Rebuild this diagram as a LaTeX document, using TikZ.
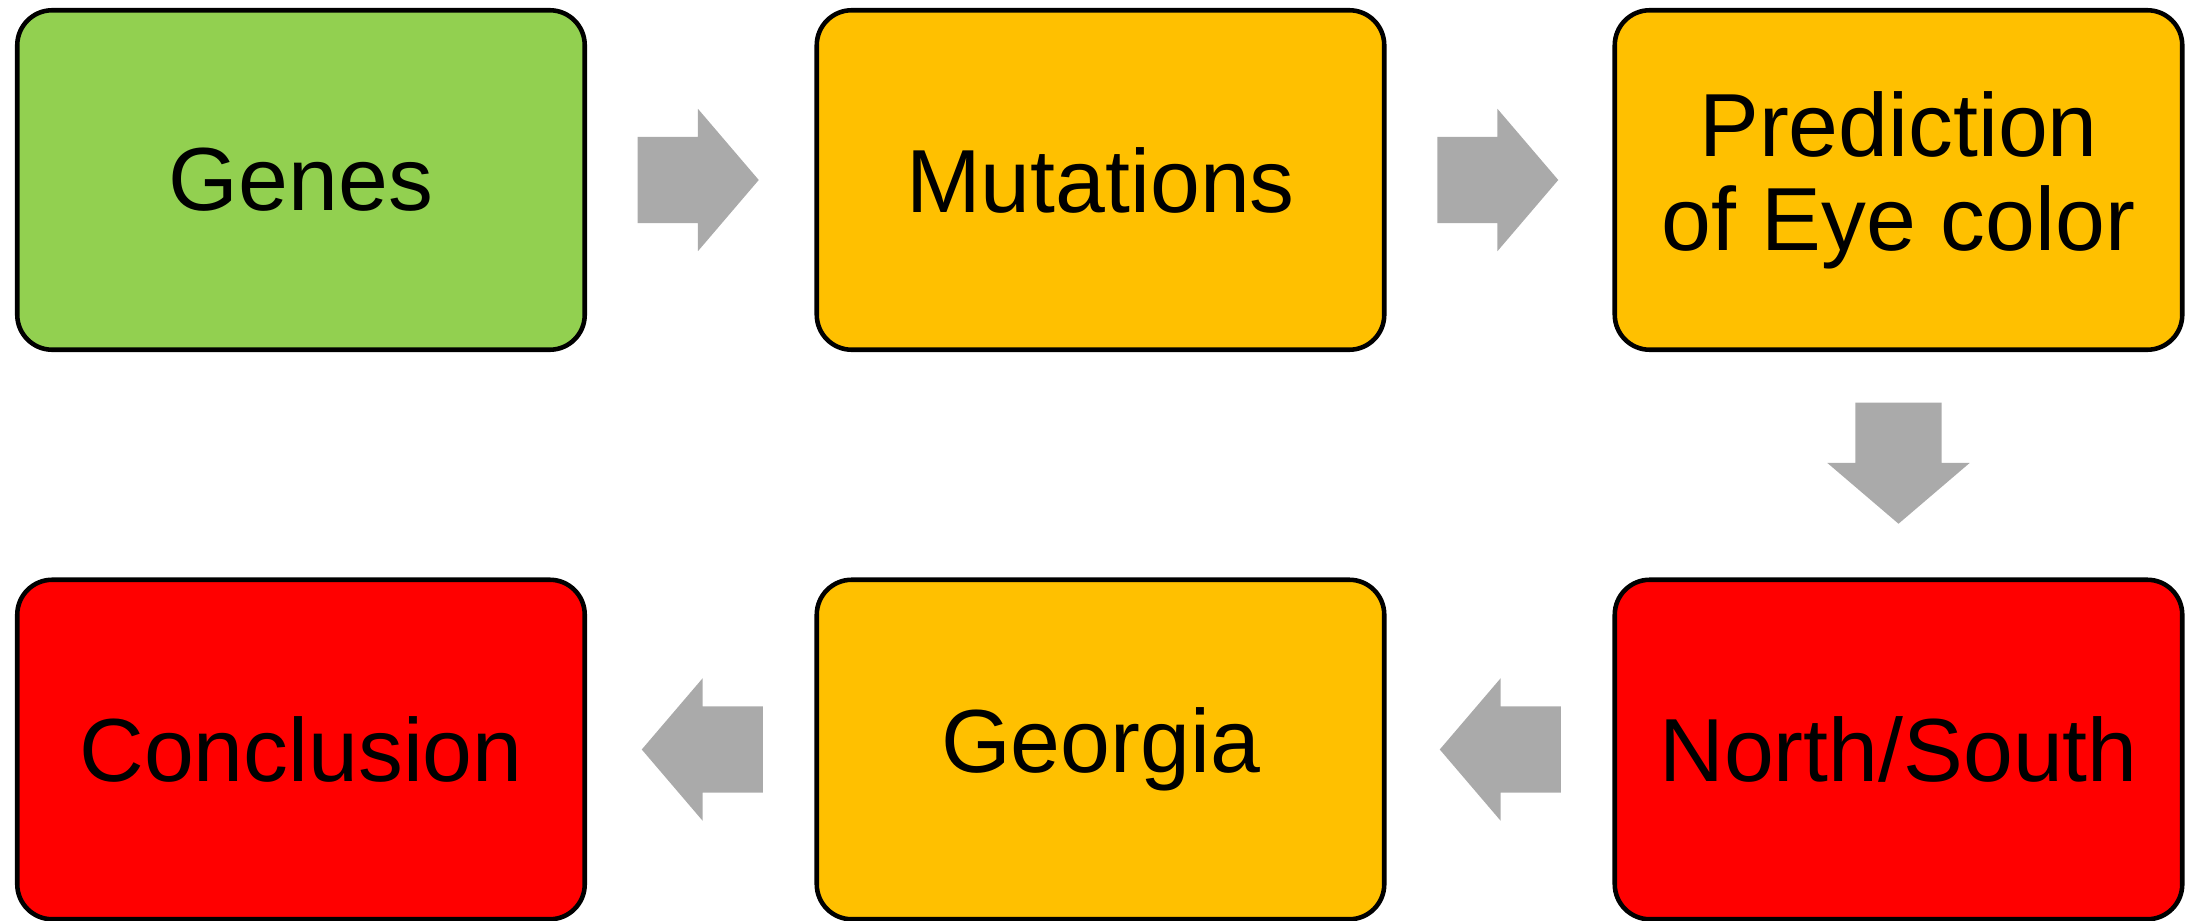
\documentclass[tikz,border=0pt]{standalone}
\usepackage{fontspec}
\setmainfont{Liberation Sans}
\usetikzlibrary{shapes.arrows}

\definecolor{boxgreen}{HTML}{92D050}
\definecolor{boxorange}{HTML}{FFC000}
\definecolor{boxred}{HTML}{FF0000}
\definecolor{arrowgray}{HTML}{AAAAAA}

\tikzset{
  stage/.style={draw=black, line width=1.3pt, rounded corners=0.35cm,
    minimum width=5.675cm, minimum height=3.395cm, inner sep=0pt,
    align=center, font=\fontsize{25.5}{26.7}\selectfont},
  flow/.style={single arrow, fill=arrowgray, draw=none, anchor=tail,
    inner xsep=0pt, inner ysep=0.425cm, minimum height=1.21cm,
    single arrow head extend=0.28cm, single arrow tip angle=99}
}

\begin{document}
\begin{tikzpicture}
\useasboundingbox (0,0) rectangle (21.88,-9.21);

% top row
\node[stage, fill=boxgreen]  (genes)     at (3.01,-1.80)   {Genes};
\node[stage, fill=boxorange] (mutations) at (11.005,-1.80) {Mutations};
\node[stage, fill=boxorange] (predict)   at (18.985,-1.80) {Prediction\\of Eye color};

% bottom row
\node[stage, fill=boxred]    (northsouth) at (18.985,-7.495) {North/South};
\node[stage, fill=boxorange] (georgia)    at (11.005,-7.495) {Georgia};
\node[stage, fill=boxred]    (conclusion) at (3.01,-7.495)   {Conclusion};

% arrows
\node[flow] (genestomut) at ([xshift=0.5cm]genes.east) {};
\node[flow] (muttopred) at ([xshift=0.5cm]mutations.east) {};
\node[flow, rotate=-90] (predtons) at ([yshift=-0.5cm]predict.south) {};
\node[flow, rotate=180] (nstogeo) at ([xshift=-0.51cm]northsouth.west) {};
\node[flow, rotate=180] (geotoconc) at ([xshift=-0.51cm]georgia.west) {};

\end{tikzpicture}
\end{document}
